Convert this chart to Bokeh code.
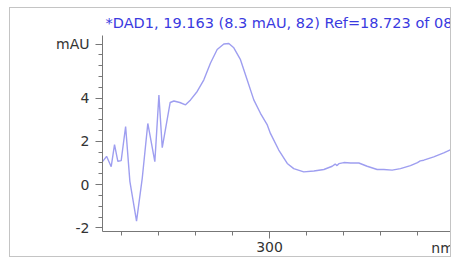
from bokeh.plotting import figure
from bokeh.models import Range1d, FixedTicker
from bokeh.embed import file_html
from bokeh.resources import INLINE

# Spectrum data
wavelength_nm = [209.6, 211.9, 214.4, 216.2, 218.0, 219.8, 222.2, 224.5, 228.1, 231.2,
                 234.2, 238.0, 240.2, 242.0, 246.3, 248.3, 251.5, 254.6, 257.3, 260.9,
                 264.5, 268.1, 271.7, 275.3, 278.0, 280.7, 284.3, 287.9, 291.5, 295.1,
                 298.8, 300.5, 305.0, 309.6, 313.1, 318.5, 324.0, 329.4, 333.9, 335.5,
                 336.5, 337.5, 340.2, 343.8, 348.3, 352.8, 358.2, 361.8, 366.3, 370.8,
                 376.2, 380.0, 381.5, 383.4, 388.8, 394.2, 399.3]
absorbance_mau = [1.05, 1.31, 0.83, 1.85, 1.08, 1.11, 2.69, 0.15, -1.69, 0.30,
                  2.83, 1.06, 4.14, 1.71, 3.80, 3.87, 3.80, 3.69, 3.92, 4.31,
                  4.85, 5.63, 6.25, 6.51, 6.53, 6.33, 5.78, 4.85, 3.92, 3.30,
                  2.76, 2.37, 1.60, 0.98, 0.74, 0.59, 0.63, 0.70, 0.85, 0.95,
                  0.88, 0.97, 1.02, 1.00, 1.00, 0.85, 0.70, 0.70, 0.67, 0.74,
                  0.88, 1.02, 1.10, 1.13, 1.28, 1.47, 1.67]

y_ticks = [-2, 0, 2, 4, 6.5]
y_tick_labels = {-2: "-2", 0: "0", 2: "2", 4: "4", 6.5: "mAU"}
y_minor = [-2, -1.5, -1, -0.5, 0, 0.5, 1, 1.5, 2, 2.5, 3, 3.5, 4, 4.5, 5, 5.5, 6, 6.5]
x_ticks = [300]
x_minor = [220, 240, 260, 280, 300, 320, 340, 360, 380]

title_text = "*DAD1, 19.163 (8.3 mAU, 82) Ref=18.723 of 08"
x_label_text = "nm"

FONT = "DejaVu Sans"

p = figure(width=442, height=250, output_backend="svg", toolbar_location=None,
           x_range=Range1d(209.7, 398.4), y_range=Range1d(-2.17, 6.9),
           min_border_left=92, min_border_right=1, min_border_top=27, min_border_bottom=27)
p.styles = {"border": "1px solid #c4c4c4", "margin-left": "9px", "margin-top": "7px"}

p.line(wavelength_nm, absorbance_mau, line_color="#9e9ef0", line_width=1.4)

p.grid.visible = False
p.outline_line_color = None
p.background_fill_color = "white"
p.border_fill_color = "white"

p.title.text = title_text
p.title.align = "left"
p.title.offset = 3
p.title.standoff = 9
p.title.text_line_height = 0.8
p.title.text_font = FONT
p.title.text_font_size = "14.5px"
p.title.text_font_style = "normal"
p.title.text_color = "#3a3ae0"

p.yaxis.ticker = FixedTicker(ticks=y_ticks, minor_ticks=y_minor)
p.yaxis.major_label_overrides = y_tick_labels
p.xaxis.ticker = FixedTicker(ticks=x_ticks, minor_ticks=x_minor)

for ax in (p.xaxis[0], p.yaxis[0]):
    ax.axis_line_color = "#777777"
    ax.major_tick_line_color = "#777777"
    ax.minor_tick_line_color = "#777777"
    ax.major_tick_in = 0
    ax.minor_tick_in = 0
    ax.major_tick_out = 7
    ax.minor_tick_out = 4
    ax.major_label_text_font = FONT
    ax.major_label_text_font_size = "14px"
    ax.major_label_text_color = "#333333"

p.yaxis.major_label_standoff = 6
p.xaxis.major_label_standoff = 3

xa = p.xaxis[0]
# the axis label is centred on the axis end; trailing no-break spaces pull "nm" inside
xa.axis_label = x_label_text + "\u00a0" * 4
xa.axis_label_text_font = FONT
xa.axis_label_text_font_size = "14px"
xa.axis_label_text_font_style = "normal"
xa.axis_label_text_color = "#333333"
xa.axis_label_align = "end"
try:
    xa.axis_label_standoff = -15
except ValueError:
    xa.axis_label_standoff = 0

open("out.html", "w").write(file_html(p, INLINE))
